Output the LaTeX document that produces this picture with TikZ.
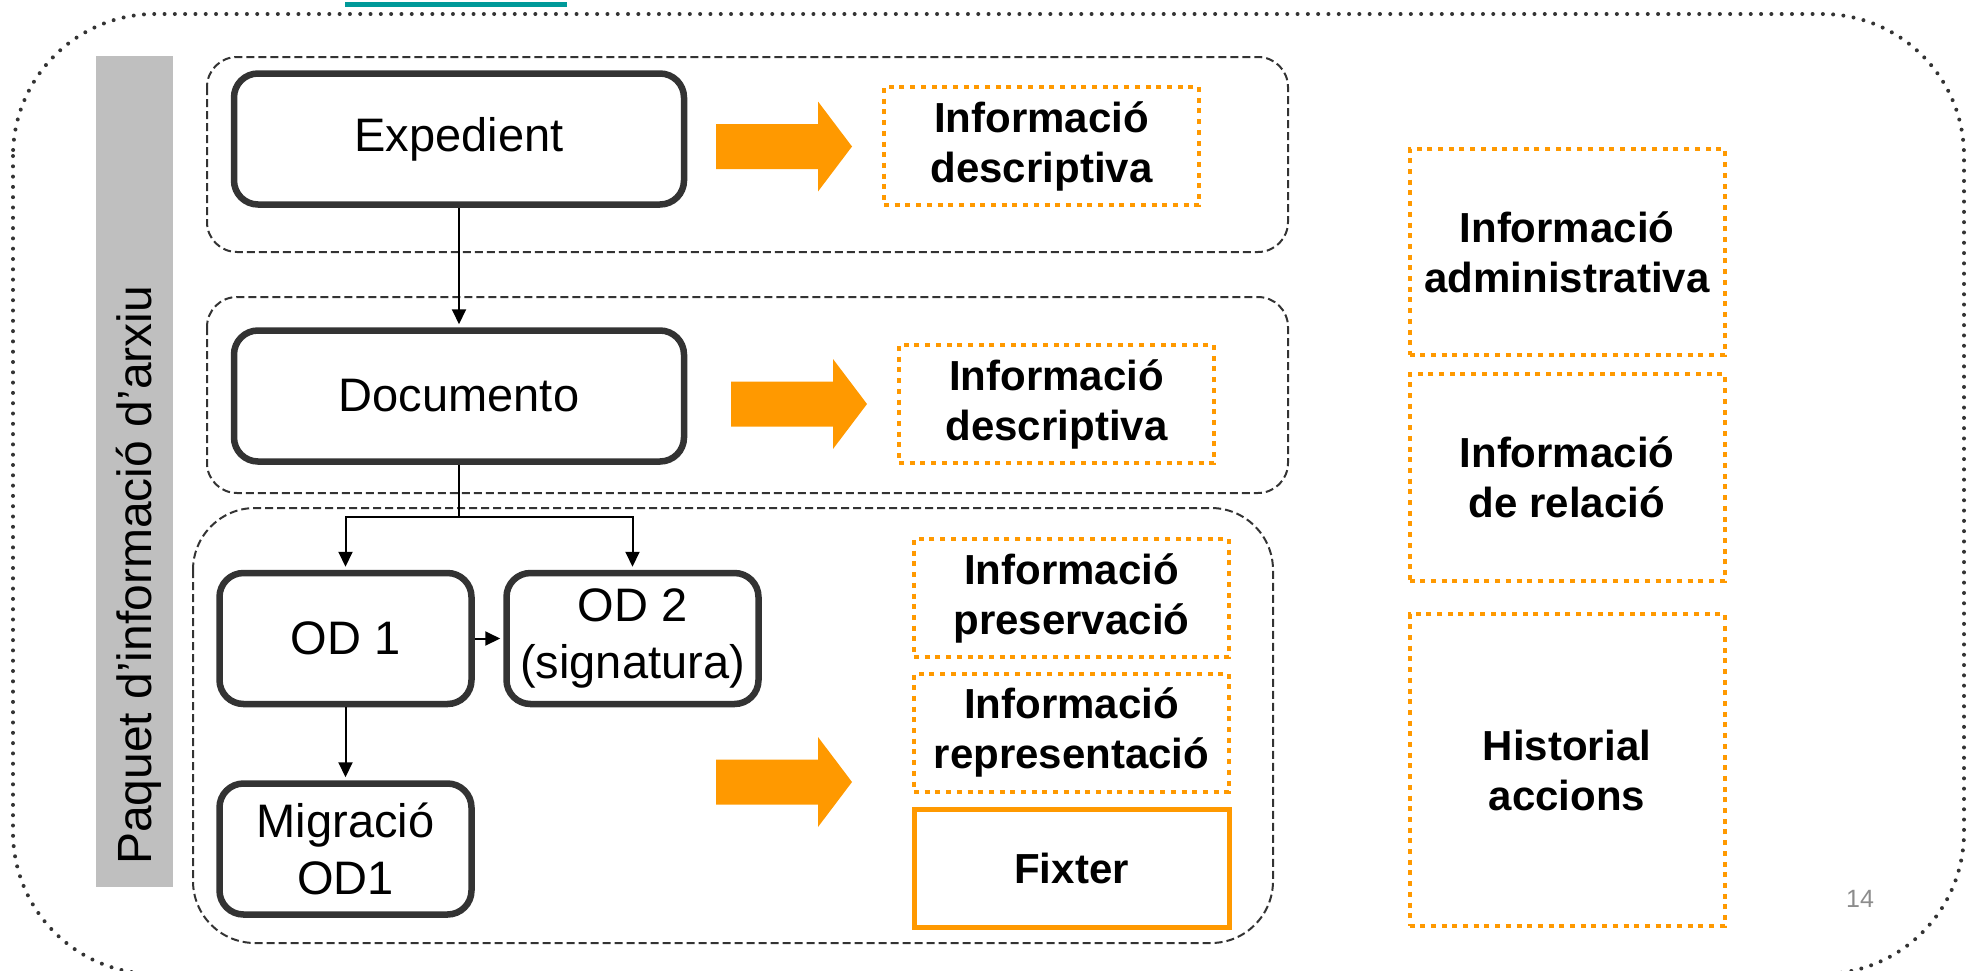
\documentclass[tikz,border=0pt]{standalone}
\usepackage{fontspec}
\setmainfont{Liberation Sans}
\usepackage{xcolor}
\usetikzlibrary{arrows.meta}
\definecolor{frame}{HTML}{333333}
\definecolor{infoorange}{HTML}{FF9900}
\definecolor{labelgray}{HTML}{BFBFBF}
\definecolor{linkteal}{HTML}{009999}
\definecolor{pagegray}{HTML}{8C8C8C}

\begin{document}
\begin{tikzpicture}[x=1pt,y=-1pt,
    objbox/.style={draw=frame, line width=6.5pt, rounded corners=24pt, inner sep=0pt,
        minimum width=450pt, minimum height=131pt, align=center,
        font=\fontsize{47}{57}\selectfont},
    odbox/.style={objbox, minimum width=252pt},
    infobox/.style={draw=infoorange, line width=4pt, dash pattern=on 5pt off 5.7pt,
        minimum width=315pt, minimum height=118pt, inner sep=0pt, align=center,
        font=\bfseries\fontsize{42}{50}\selectfont},
    fixbox/.style={infobox, solid, line width=5pt},
    groupbox/.style={draw=frame, line width=2pt, dash pattern=on 8pt off 4pt},
    link/.style={draw=black, line width=2pt, shorten >=3pt, -{Triangle[length=15pt,width=14pt]}},
    blockarrow/.style={fill=infoorange}
]
\useasboundingbox (0,0) rectangle (1973,970);

\draw[frame, line width=4pt, line cap=round, dash pattern=on 0pt off 10.3pt, rounded corners=142pt]
    (13,14) rectangle (1964,974);
\draw[linkteal, line width=5pt] (345,4.5) -- (567,4.5);

\fill[labelgray] (96,56) rectangle (173,887);
\node[rotate=90, anchor=base west, inner sep=0pt, font=\fontsize{48}{58}\selectfont]
    (paquet) at (151,865) {Paquet d’informació d’arxiu};

\draw[groupbox, rounded corners=30pt] (207,57) rectangle (1288,252);
\draw[groupbox, rounded corners=30pt] (207,297) rectangle (1288,493);
\draw[groupbox, rounded corners=62pt] (193,508) rectangle (1273,943);

\node[objbox] (exp) at (459,139) {Expedient};
\node[objbox] (doc) at (459,396) {Documento};
\node[odbox] (od1) at (345.5,638.5) {OD 1};
\node[odbox] (od2) at (632.5,638.5) {OD 2\\(signatura)};
\node[odbox] (mig) at (345.5,849) {Migració\\OD1};

\node[infobox] (desc1) at (1041.5,146) {Informació\\descriptiva};
\node[infobox] (desc2) at (1056.5,404) {Informació\\descriptiva};
\node[infobox] (pres) at (1071.5,598) {Informació\\preservació};
\node[infobox] (repr) at (1071.5,732.5) {Informació\\representació};
\node[fixbox] (fix) at (1071.5,868.5) {Fixter};

\node[infobox, minimum height=206pt] (admin) at (1567,252) {Informació\\administrativa};
\node[infobox, minimum height=207pt] (rel) at (1567,477.5) {Informació\\de relació};
\node[infobox, minimum height=312pt] (hist) at (1567,770) {Historial\\accions};

\node[text=pagegray, font=\fontsize{25}{30}\selectfont] (pnum) at (1860,899) {14};

\foreach \ax/\ay in {716/146.5, 731/404, 716/782}
    \fill[blockarrow] (\ax,\ay) ++(0,-22.5) -- ++(102,0) -- ++(0,-22.5) -- ++(34,45)
        -- ++(-34,45) -- ++(0,-22.5) -- ++(-102,0) -- cycle;

\coordinate (split) at (459,517);
\draw[link] (exp) -- (doc);
\draw[line width=2pt] (doc.south) -- (split);
\draw[link] (split) -| (od1.north);
\draw[link] (split) -| (od2.north);
\draw[link] (od1) -- (od2);
\draw[link] (od1) -- (mig);
\end{tikzpicture}
\end{document}
